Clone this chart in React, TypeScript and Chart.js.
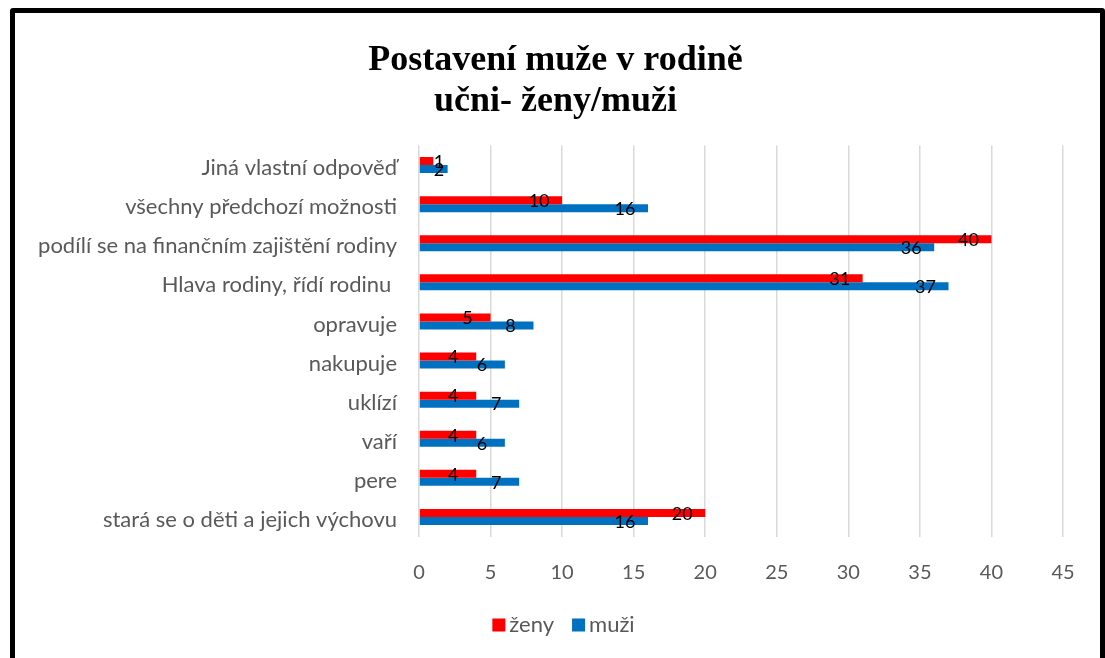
import React, { useEffect, useRef } from "react";
import { Chart, registerables } from "chart.js";

Chart.register(...registerables);

const categories = [
  "Jiná vlastní odpověď",
  "všechny předchozí možnosti",
  "podílí se na finančním zajištění rodiny",
  "Hlava rodiny, řídí rodinu ",
  "opravuje",
  "nakupuje",
  "uklízí",
  "vaří",
  "pere",
  "stará se o děti a jejich výchovu",
];
const zenyValues = [1, 10, 40, 31, 5, 4, 4, 4, 4, 20];
const muziValues = [2, 16, 36, 37, 8, 6, 7, 6, 7, 16];
const seriesNames = ["ženy", "muži"];
const seriesColors = ["#FF0000", "#0070C0"];
const titleLines = ["Postavení muže v rodině", "učni- ženy/muži"];
const xMin = 0;
const xMax = 45;
const xStep = 5;

const FONT = "Lato, 'Open Sans', sans-serif";

const valueLabels = {
  id: "valueLabels",
  afterDatasetsDraw(chart: any) {
    const ctx = chart.ctx;
    const xs = chart.scales.x;
    const zeroPx = xs.getPixelForValue(0);
    ctx.save();
    ctx.font = `18px ${FONT}`;
    ctx.fillStyle = "#000000";
    ctx.textAlign = "center";
    ctx.textBaseline = "middle";
    chart.data.datasets.forEach((ds: any, di: number) => {
      const meta = chart.getDatasetMeta(di);
      meta.data.forEach((el: any, i: number) => {
        const x = Math.max(el.x - 23, zeroPx + 20);
        ctx.fillText(String(ds.data[i]), x, el.y + 1);
      });
    });
    ctx.restore();
  },
};

const customLegend = {
  id: "customLegend",
  afterDraw(chart: any) {
    const ctx = chart.ctx;
    ctx.save();
    ctx.font = `22px ${FONT}`;
    ctx.textBaseline = "middle";
    ctx.textAlign = "left";
    const box = 13;
    const gap = 4;
    const spacing = 18;
    const widths = seriesNames.map((n) => ctx.measureText(n).width);
    const total =
      widths.reduce((a, w) => a + box + gap + w, 0) + spacing * (seriesNames.length - 1);
    let x = chart.width / 2 + 11 - total / 2;
    const y = 625;
    seriesNames.forEach((n, i) => {
      ctx.fillStyle = seriesColors[i];
      ctx.fillRect(x, y - box / 2, box, box);
      ctx.fillStyle = "#595959";
      ctx.fillText(n, x + box + gap, y);
      x += box + gap + widths[i] + spacing;
    });
    ctx.restore();
  },
};

export default function App() {
  const ref = useRef<HTMLCanvasElement | null>(null);

  useEffect(() => {
    document.body.style.margin = "0";
    document.body.style.overflow = "hidden";
    const canvas = ref.current;
    if (!canvas) return;
    const chart = new Chart(canvas, {
      type: "bar",
      data: {
        labels: categories,
        datasets: [
          {
            label: seriesNames[0],
            data: zenyValues,
            backgroundColor: seriesColors[0],
            borderWidth: 0,
            categoryPercentage: 0.41,
            barPercentage: 1.0,
          },
          {
            label: seriesNames[1],
            data: muziValues,
            backgroundColor: seriesColors[1],
            borderWidth: 0,
            categoryPercentage: 0.41,
            barPercentage: 1.0,
          },
        ],
      },
      options: {
        indexAxis: "y",
        responsive: false,
        animation: false,
        events: [],
        layout: { padding: { left: 6, right: 0, top: 0, bottom: 52 } },
        scales: {
          x: {
            type: "linear",
            min: xMin,
            max: xMax,
            ticks: {
              stepSize: xStep,
              color: "#595959",
              font: { family: FONT, size: 20 },
              padding: 24,
            },
            grid: { color: "#d9d9d9", lineWidth: 1.5, drawTicks: false },
            border: { display: false },
            afterFit: (s: any) => {
              s.height = 69.5;
            },
          },
          y: {
            type: "category",
            ticks: {
              color: "#595959",
              font: { family: FONT, size: 22 },
              padding: 22,
              labelOffset: 3,
            },
            grid: { display: false, drawTicks: false },
            border: { display: false },
            afterFit: (s: any) => {
              s.width = 413;
            },
          },
          yRight: {
            type: "linear",
            position: "right",
            display: true,
            ticks: { display: false },
            grid: { display: false, drawTicks: false },
            border: { display: false },
            afterFit: (s: any) => {
              s.width = 42;
            },
          },
        },
        plugins: {
          title: {
            display: true,
            text: titleLines,
            color: "#000000",
            font: { family: "'Liberation Serif', 'Times New Roman', serif", size: 36, weight: "bold", lineHeight: 1.15 },
            padding: { top: 40, bottom: 22.7 },
          },
          legend: { display: false },
          tooltip: { enabled: false },
        },
      },
      plugins: [valueLabels, customLegend],
    } as any);
    return () => chart.destroy();
  }, []);

  return (
    <div>
      <canvas
        ref={ref}
        width={1105}
        height={658}
        style={{ position: "fixed", left: 0, top: 0, width: 1105, height: 658 }}
      />
      <div
        style={{
          position: "fixed",
          left: 10,
          top: 8,
          width: 1095,
          height: 700,
          border: "5px solid #000000",
          borderRadius: 3,
          boxSizing: "border-box",
          pointerEvents: "none",
        }}
      />
    </div>
  );
}
